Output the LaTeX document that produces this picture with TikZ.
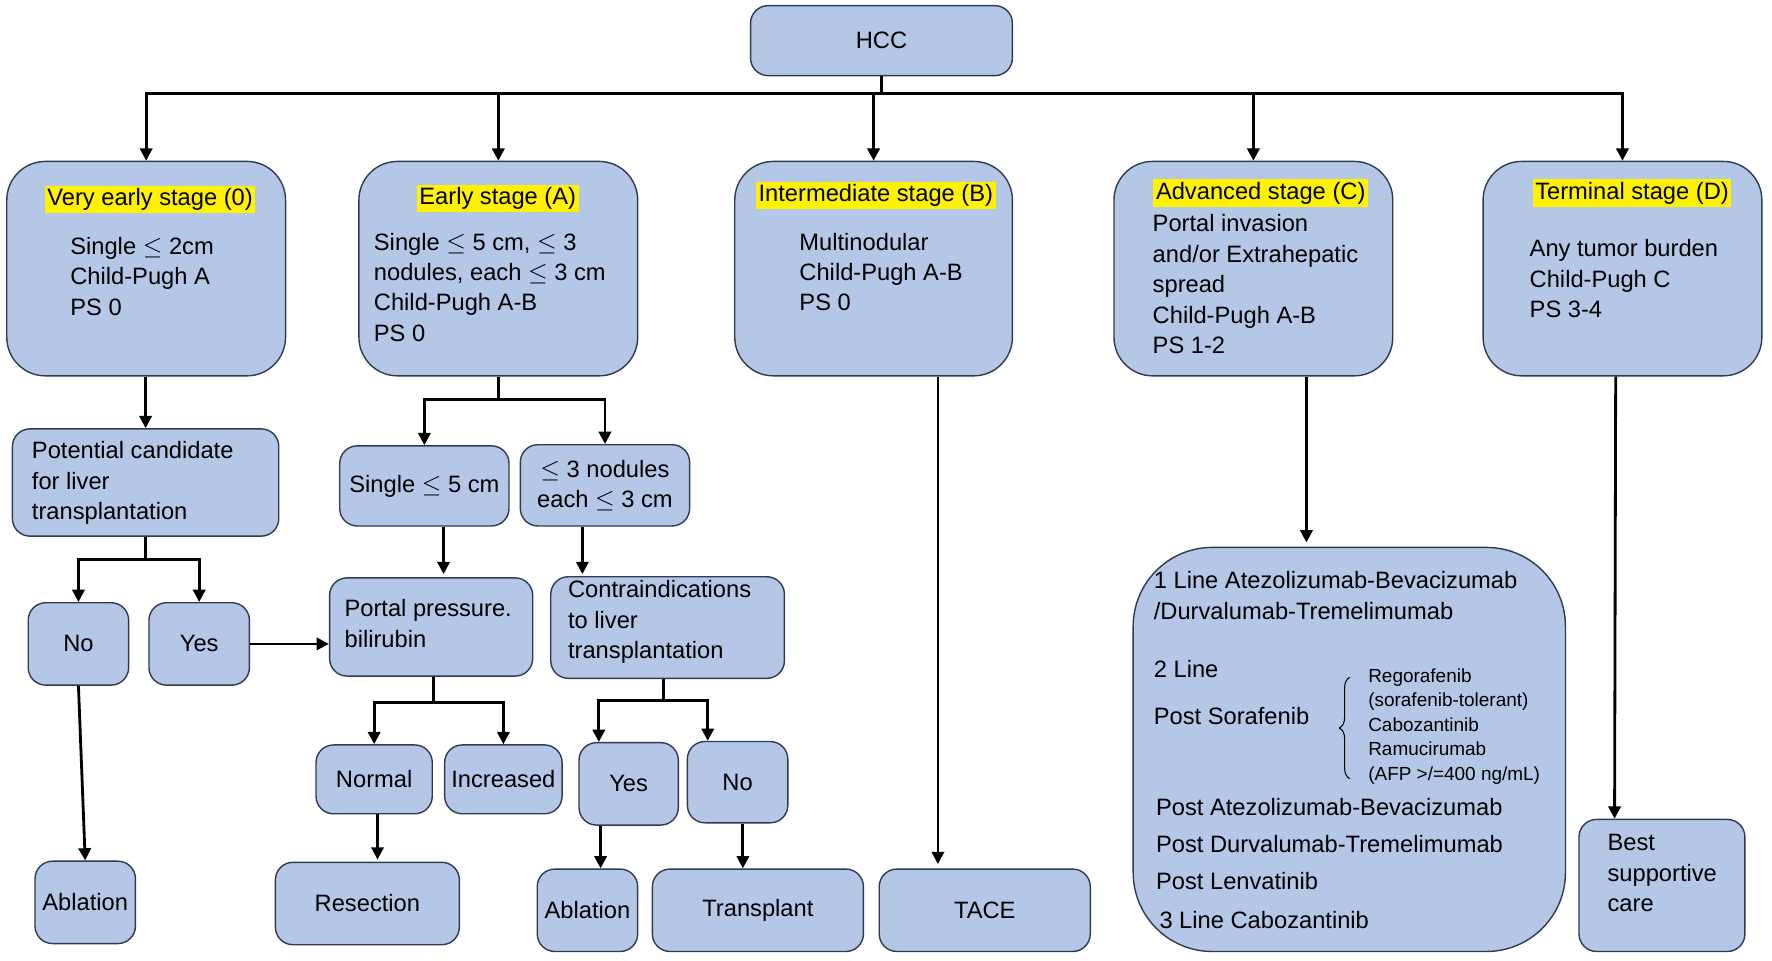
\documentclass[tikz,border=0pt]{standalone}
\usepackage{fontspec}
\setmainfont{Liberation Sans}
\usetikzlibrary{arrows.meta,fit,decorations.pathreplacing}
\definecolor{boxfill}{HTML}{B4C7E7}
\definecolor{boxline}{HTML}{2F3B52}
\tikzset{
  box/.style={draw=boxline, line width=0.8pt, fill=boxfill, rounded corners=10pt, inner sep=0pt},
  stage/.style={box, rounded corners=22pt},
  arr/.style={line width=1.6pt, -{Triangle[length=7pt,width=7pt]}},
  ln/.style={line width=1.6pt},
  txt/.style={anchor=north west, inner sep=0pt, align=left, font=\fontsize{13.5}{17.3}\selectfont},
  ctxt/.style={inner sep=0pt, align=center, font=\fontsize{13.5}{17.3}\selectfont},
  small/.style={anchor=north west, inner sep=0pt, align=left, font=\fontsize{10.8}{14}\selectfont},
  hl/.style={fill=yellow, inner sep=1.5pt, font=\fontsize{13.5}{17.3}\selectfont}
}
\begin{document}
\begin{tikzpicture}[x=0.0226cm, y=-0.0226cm]
\useasboundingbox (0,0) rectangle (1570,851);

% top
\node[box, fit={(665,5)(897,67)}] (hcc) {};
\node[ctxt] at (hcc.center) {HCC};

% stages
\node[stage, fit={(6,143)(253,333)}] (s0) {};
\node[stage, fit={(318,143)(565,333)}] (sA) {};
\node[stage, fit={(651,143)(897,333)}] (sB) {};
\node[stage, fit={(987,143)(1234,333)}] (sC) {};
\node[stage, fit={(1314,143)(1561,333)}] (sD) {};

\node[hl] at (133,177) {Very early stage (0)};
\node[hl] at (441,176) {Early stage (A)};
\node[hl] at (776,173) {Intermediate stage (B)};
\node[hl] at (1117,171) {Advanced stage (C)};
\node[hl] at (1446,171) {Terminal stage (D)};

\node[txt] at (62,210) {Single $\leq$ 2cm\\Child-Pugh A\\PS 0};
\node[txt] at (331,206) {Single $\leq$ 5 cm, $\leq$ 3\\nodules, each $\leq$ 3 cm\\Child-Pugh A-B\\PS 0};
\node[txt] at (708,206) {Multinodular\\Child-Pugh A-B\\PS 0};
\node[txt] at (1021,190) {Portal invasion\\and/or Extrahepatic\\spread\\Child-Pugh A-B\\PS 1-2};
\node[txt] at (1355,212) {Any tumor burden\\Child-Pugh C\\PS 3-4};

\foreach \s in {s0,sA,sB,sC,sD}
  \draw[arr] (hcc.south) -- ++(0,15) -| (\s.north);

% very early branch
\node[box, fit={(11,380)(247,475)}] (cand) {};
\node[txt] at (28,391) {Potential candidate\\for liver\\transplantation};
\node[box, fit={(25,534)(114,607)}] (no0) {};
\node[ctxt] at (no0.center) {No};
\node[box, fit={(132,534)(221,607)}] (yes0) {};
\node[ctxt] at (yes0.center) {Yes};
\node[box, fit={(31,763)(120,836)}] (abl0) {};
\node[ctxt] at (abl0.center) {Ablation};

\draw[arr] (s0.south -| cand.north) -- (cand.north);
\draw[arr] (cand.south) -- ++(0,20) -| (no0.north);
\draw[arr] (cand.south) -- ++(0,20) -| (yes0.north);
\draw[arr] (no0.south) -- (abl0.north);

% early branch
\node[box, fit={(301,395)(451,466)}] (sgl) {};
\node[ctxt] at (sgl.center) {Single $\leq$ 5 cm};
\node[box, fit={(461,394)(611,466)}] (nod) {};
\node[ctxt] at (nod.center) {$\leq$ 3 nodules\\each $\leq$ 3 cm};
\node[box, fit={(292,512)(472,599)}] (portal) {};
\node[txt] at (305,531) {Portal pressure.\\bilirubin};
\node[box, fit={(488,511)(695,601)}] (contra) {};
\node[txt] at (503,514) {Contraindications\\to liver\\transplantation};

\draw[arr] (sA.south) -- ++(0,20) -| (sgl.north);
\draw[arr] (sA.south) -- ++(0,20) -| (nod.north);
\draw[arr] (sgl.south -| portal.north) ++(11,0) -- ++(0,42);
\draw[arr] (yes0.east) -- (portal.west |- yes0.east);
\draw[arr] (nod.south) ++(-20,0) -- ++(0,42);

\node[box, fit={(280,660)(383,721)}] (norm) {};
\node[ctxt] at (norm.center) {Normal};
\node[box, fit={(394,660)(498,721)}] (incr) {};
\node[ctxt] at (incr.center) {Increased};
\node[box, fit={(244,764)(407,837)}] (resec) {};
\node[ctxt] at (resec.center) {Resection};
\draw[arr] (portal.south) ++(2,0) -- ++(0,23) -| (norm.north);
\draw[arr] (portal.south) ++(2,0) -- ++(0,23) -| (incr.north);
\draw[arr] (norm.south) ++(3,0) -- ++(0,40);

\node[box, fit={(513,658)(601,731)}] (yesC) {};
\node[ctxt] at (yesC.center) {Yes};
\node[box, fit={(609,657)(698,729)}] (noC) {};
\node[ctxt] at (noC.center) {No};
\node[box, fit={(476,770)(565,843)}] (abl1) {};
\node[ctxt] at (abl1.center) {Ablation};
\node[box, fit={(578,770)(765,843)}] (trans) {};
\node[ctxt] at (trans.center) {Transplant};
\draw[arr] (contra.south) ++(-4,0) -- ++(0,19) -| ([xshift=-17]yesC.north);
\draw[arr] (contra.south) ++(-4,0) -- ++(0,19) -| ([xshift=-17]noC.north);
\draw[arr] ([xshift=-16]yesC.south) -- ([xshift=-16]yesC.south |- abl1.north);
\draw[arr] ([xshift=3]noC.south) -- ([xshift=3]noC.south |- trans.north);

% intermediate
\node[box, fit={(779,770)(966,843)}] (tace) {};
\node[ctxt] at (tace.center) {TACE};
\draw[arr] (sB.south) ++(57,0) -- ++(0,432);

% advanced
\node[box, rounded corners=45pt, fit={(1004,485)(1387,843)}] (lines) {};
\draw[arr] (sC.south) ++(47,0) -- ++(0,147);
\node[txt] at (1022,506) {1 Line Atezolizumab-Bevacizumab\\/Durvalumab-Tremelimumab};
\node[txt] at (1022,585) {2 Line};
\node[txt] at (1022,626) {Post Sorafenib};
\draw[line width=0.6pt, decorate, decoration={brace, amplitude=6pt}]
  (1196,690) -- (1196,600);
\node[small] at (1212,592) {Regorafenib\\(sorafenib-tolerant)\\Cabozantinib\\Ramucirumab\\(AFP >/=400 ng/mL)};
\node[txt] at (1024,707) {Post Atezolizumab-Bevacizumab};
\node[txt] at (1024,740) {Post Durvalumab-Tremelimumab};
\node[txt] at (1024,773) {Post Lenvatinib};
\node[txt] at (1027,807) {3 Line Cabozantinib};

% terminal
\node[box, fit={(1399,726)(1546,843)}] (bsc) {};
\node[txt] at (1424,739) {Best\\supportive\\care};
\draw[arr] (sD.south) ++(-6,0) -- ([xshift=-27]bsc.north);
\end{tikzpicture}
\end{document}
